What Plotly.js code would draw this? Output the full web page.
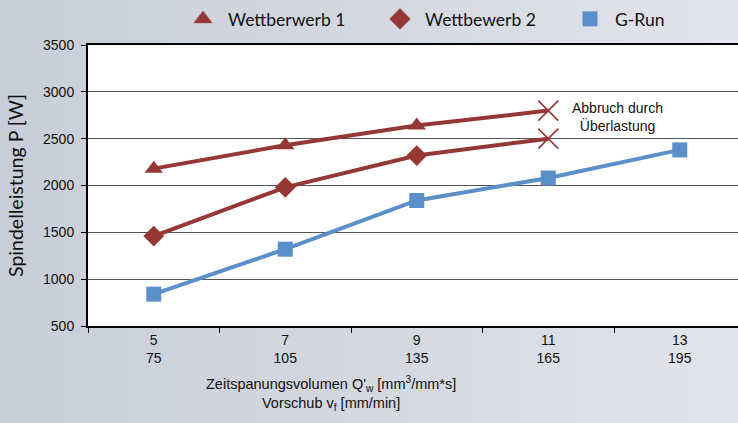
<!DOCTYPE html>
<html>
<head>
<meta charset="utf-8">
<script src="https://cdn.plot.ly/plotly-3.0.1.min.js"></script>
<style>
  html, body { margin: 0; padding: 0; overflow: hidden; }
  body { width: 738px; height: 423px; background: linear-gradient(to right, #c8ced9 0%, #d6dae2 60%, #e2e5eb 100%); }
  #chart { width: 738px; height: 423px; }
</style>
</head>
<body>
<div id="chart"></div>
<script>
// Data
const categories = ["5<br>75", "7<br>105", "9<br>135", "11<br>165", "13<br>195"];
const wettbewerb1 = [2180, 2430, 2640, 2800];
const wettbewerb2 = [1460, 1980, 2320, 2500];
const gRun = [840, 1320, 1840, 2080, 2380];
const seriesNames = ["Wettberwerb 1", "Wettbewerb 2", "G-Run"];
const yTicks = [500, 1000, 1500, 2000, 2500, 3000, 3500];

const red = "#953735";
const blue = "#5b8fc9";

function endSymbols(base, n) {
  return Array.from({length: n}, (_, i) => i === n - 1 ? "x-thin-open" : base);
}
function endSizes(base, n) {
  return Array.from({length: n}, (_, i) => i === n - 1 ? 20 : base);
}
function endLineW(n) {
  return Array.from({length: n}, (_, i) => i === n - 1 ? 1.6 : 0);
}

function lineTrace(y, color) {
  return {x: categories.slice(0, y.length), y: y, type: "scatter", mode: "lines",
          line: {color: color, width: 4}, showlegend: false, hoverinfo: "skip"};
}

const traces = [
  lineTrace(wettbewerb1, red),
  lineTrace(wettbewerb2, red),
  lineTrace(gRun, blue),
  {
    x: categories.slice(0, wettbewerb1.length), y: wettbewerb1, name: seriesNames[0],
    type: "scatter", mode: "markers", legend: "legend",
    marker: {color: red, opacity: 1, symbol: endSymbols("triangle-up", wettbewerb1.length),
             size: endSizes(16, wettbewerb1.length),
             line: {color: red, width: endLineW(wettbewerb1.length)}}
  },
  {
    x: categories.slice(0, wettbewerb2.length), y: wettbewerb2, name: seriesNames[1],
    type: "scatter", mode: "markers", legend: "legend2",
    marker: {color: red, opacity: 1, symbol: endSymbols("diamond", wettbewerb2.length),
             size: endSizes(16, wettbewerb2.length),
             line: {color: red, width: endLineW(wettbewerb2.length)}}
  },
  {
    x: categories, y: gRun, name: seriesNames[2],
    type: "scatter", mode: "markers", legend: "legend3",
    marker: {color: blue, opacity: 1, symbol: "square", size: 15}
  }
];

function legendAt(leftPx) {
  return {
    orientation: "h", xref: "container", yref: "container",
    x: leftPx / 738, xanchor: "left", y: 1 - 1 / 423, yanchor: "top",
    itemwidth: 40,
    font: {family: "Lato, 'Open Sans', sans-serif", size: 17.5, color: "#111"},
    bgcolor: "rgba(0,0,0,0)"
  };
}

const layout = {
  width: 738, height: 423,
  margin: {l: 88, r: 0, t: 45, b: 97},
  paper_bgcolor: "rgba(0,0,0,0)",
  plot_bgcolor: "#ffffff",
  showlegend: true,
  legend: legendAt(178),
  legend2: legendAt(375),
  legend3: legendAt(565),
  xaxis: {
    type: "category",
    categoryorder: "array", categoryarray: categories,
    range: [-0.5, 4.443],
    tickson: "boundaries",
    ticks: "outside", ticklen: 5, tickcolor: "#000", tickwidth: 1,
    showline: true, linecolor: "#000", linewidth: 2, mirror: true,
    showgrid: false, zeroline: false,
    tickfont: {family: "'Liberation Sans', Arial, sans-serif", size: 14, color: "#111"},
    fixedrange: true
  },
  yaxis: {
    range: [500, 3500],
    tickvals: yTicks,
    ticks: "outside", ticklen: 5, tickcolor: "#000", tickwidth: 1,
    ticklabelstandoff: 4,
    showline: true, linecolor: "#000", linewidth: 2,
    showgrid: true, gridcolor: "#555", gridwidth: 1,
    zeroline: false,
    tickfont: {family: "'Liberation Sans', Arial, sans-serif", size: 14, color: "#111"},
    title: {
      text: "Spindelleistung P [W]",
      font: {family: "Lato, 'Open Sans', sans-serif", size: 19.5, color: "#111"},
      standoff: 14
    },
    fixedrange: true
  },
  annotations: [
    {
      x: 3.53, y: 2730, xref: "x", yref: "y",
      text: "Abbruch durch<br>Überlastung", showarrow: false,
      font: {family: "'Liberation Sans', Arial, sans-serif", size: 14, color: "#111"},
      align: "center"
    },
    {
      x: (331 - 88) / 650, y: -0.163, xref: "paper", yref: "paper",
      xanchor: "center", yanchor: "top",
      text: "Zeitspanungsvolumen Q'<sub>w</sub> [mm<sup>3</sup>/mm*s]<br>Vorschub v<sub>f</sub> [mm/min]",
      showarrow: false, align: "center",
      font: {family: "'Liberation Sans', Arial, sans-serif", size: 14.5, color: "#111"}
    }
  ]
};

Plotly.newPlot("chart", traces, layout, {displayModeBar: false, staticPlot: true});
</script>
</body>
</html>
